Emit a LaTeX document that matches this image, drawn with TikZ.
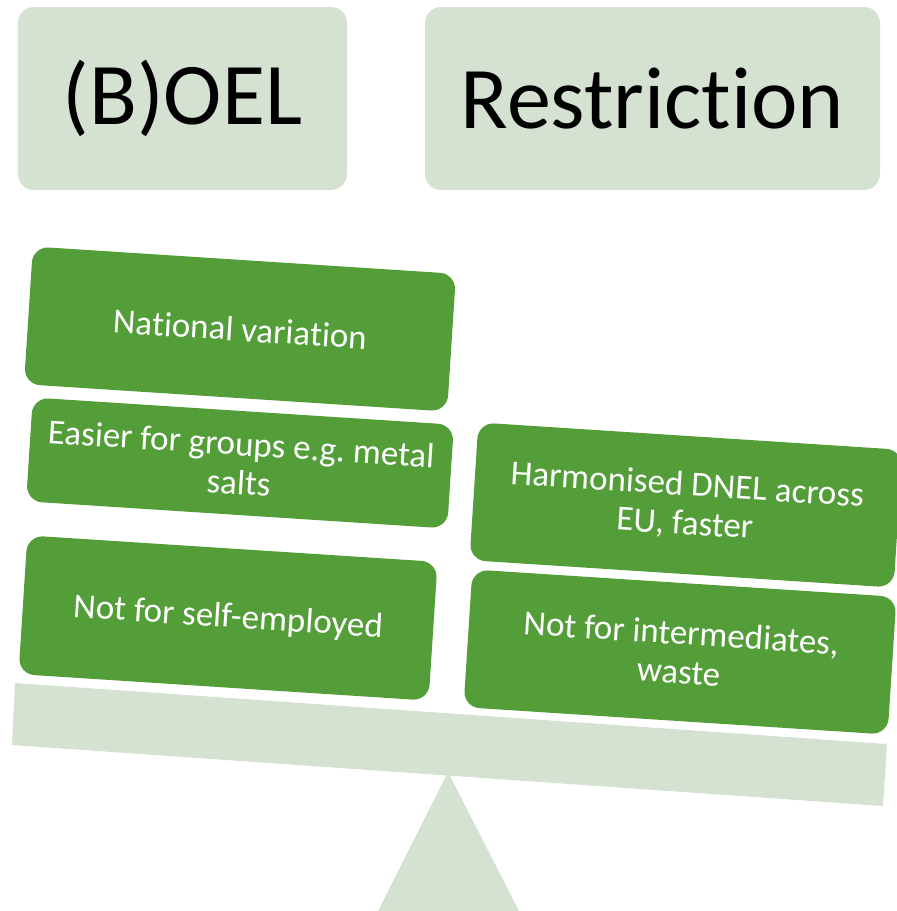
\documentclass[tikz,border=0pt]{standalone}
\usepackage{fontspec}
\setmainfont[RawFeature={-liga;-dlig;-rlig;-calt;-clig}]{Carlito}
\frenchspacing
\definecolor{palegreen}{HTML}{D5E2D2}
\definecolor{boxgreen}{HTML}{549E39}
\begin{document}
\begin{tikzpicture}[x=1pt,y=-1pt,
  topbox/.style={fill=palegreen, draw=none, rounded corners=16pt, font=\fontsize{88}{92}\selectfont, text=black, inner sep=0pt},
  gbox/.style={fill=boxgreen, draw=none, rounded corners=16pt, rotate=-3.7, align=center, text=white, font=\fontsize{35}{39}\selectfont, inner sep=0pt}]
\useasboundingbox (0,0) rectangle (897,911);
\node[topbox, minimum width=329pt, minimum height=183pt] (boel) at (182.5,98.5) {(B)OEL};
\node[topbox, minimum width=455pt, minimum height=183pt] (restr) at (652.5,98.5) {Restric\kern0pt tion};
\node[gbox, minimum width=424pt, minimum height=138pt] (nv) at (240,329) {Na\kern0pt tional varia\kern0pt tion};
\node[gbox, minimum width=422pt, minimum height=104pt] (eg) at (240,463) {Easier for groups e.g. metal\\salts};
\node[gbox, minimum width=411pt, minimum height=139pt] (se) at (228,618) {Not for self-employed};
\node[gbox, minimum width=425pt, minimum height=138pt] (hd) at (686,505) {Harmonised DNEL across\\EU, faster};
\node[gbox, minimum width=425pt, minimum height=138pt] (ni) at (680,652) {Not for intermediates,\\waste};
\fill[palegreen] (448,772) -- (519,911) -- (378,911) -- cycle;
\fill[palegreen] (15,683) -- (887,744) -- (883,806) -- (12,745) -- cycle;
\end{tikzpicture}
\end{document}
